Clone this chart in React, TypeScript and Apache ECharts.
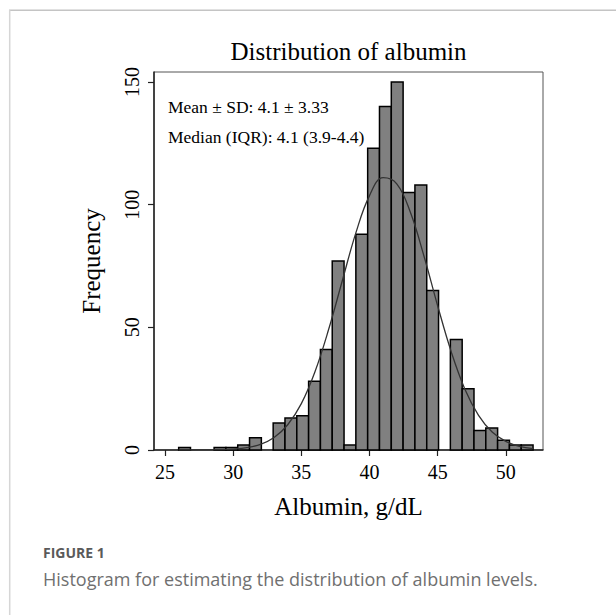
import React, { useEffect, useRef } from "react";
import * as echarts from "echarts";

// Histogram bins (Stata-style, 30 bins from 26 to 52 g/L)
const BIN_START = 26;
const BIN_WIDTH = 26 / 30;
const COUNTS = [1, 0, 0, 1, 1, 2, 5, 0, 11, 13, 14, 28, 41, 77, 2, 88, 123, 140, 150, 105, 108, 65, 0, 45, 25, 8, 9, 4, 2, 2];

// Normal curve overlay
const CURVE_X = [26, 27, 28, 29, 30, 31, 32, 33, 34, 35, 36, 37, 38, 39, 40, 41, 42, 43, 44, 45, 46, 47, 48, 49, 50, 51, 52];
const CURVE_Y = [0, 0.01, 0.04, 0.12, 0.36, 0.95, 2.3, 5.1, 10.3, 18.9, 31.9, 49.1, 68.9, 88.5, 103.7, 111.0, 108.5, 96.9, 79.0, 58.8, 40.0, 24.8, 14.1, 7.3, 3.5, 1.5, 0.6];

const X_TICKS = [25, 30, 35, 40, 45, 50];
const Y_TICKS = [0, 50, 100, 150];

const TITLE = "Distribution of albumin";
const X_NAME = "Albumin, g/dL";
const Y_NAME = "Frequency";
const NOTE_1 = "Mean ± SD: 4.1 ± 3.33";
const NOTE_2 = "Median (IQR): 4.1 (3.9-4.4)";
const FIG_LABEL = "FIGURE 1";
const FIG_CAPTION = "Histogram for estimating the distribution of albumin levels.";

const SERIF = "'Liberation Serif', 'Times New Roman', serif";
const SANS = "'Open Sans', 'Noto Sans', sans-serif";

export default function App() {
  const ref = useRef<HTMLDivElement>(null);

  useEffect(() => {
    if (!ref.current) return;
    const chart = echarts.init(ref.current, null, { renderer: "svg" });

    const binData = COUNTS.map((c, i) => [BIN_START + i * BIN_WIDTH, BIN_START + (i + 1) * BIN_WIDTH, c]);
    const curveData = CURVE_X.map((x, i) => [x, CURVE_Y[i]]);

    const option: any = {
      animation: false,
      backgroundColor: "#ffffff",
      textStyle: { fontFamily: SERIF },
      grid: {
        left: 154,
        top: 72,
        right: 73,
        bottom: 165,
        show: true,
        borderColor: "#555",
        borderWidth: 1,
        outerBoundsMode: "none",
      },
      xAxis: {
        type: "value",
        min: 24.19,
        max: 52.73,
        name: X_NAME,
        nameLocation: "middle",
        nameGap: 44,
        nameTextStyle: { fontFamily: SERIF, fontSize: 25, color: "#000" },
        axisLine: { show: true, onZero: false, lineStyle: { color: "#222", width: 1.5 } },
        axisTick: { show: true, length: 6, customValues: X_TICKS, lineStyle: { color: "#222", width: 1.2 } },
        axisLabel: { customValues: X_TICKS, fontFamily: SERIF, fontSize: 20, color: "#000", margin: 12 },
        splitLine: { show: false },
      },
      yAxis: {
        type: "value",
        min: 0,
        max: 154.1,
        name: Y_NAME,
        nameLocation: "middle",
        nameGap: 50,
        nameRotate: 90,
        nameTextStyle: { fontFamily: SERIF, fontSize: 25, color: "#000" },
        axisLine: { show: true, lineStyle: { color: "#222", width: 1.5 } },
        axisTick: { show: true, length: 6, customValues: Y_TICKS, lineStyle: { color: "#222", width: 1.2 } },
        axisLabel: {
          customValues: Y_TICKS,
          rotate: 90,
          fontFamily: SERIF,
          fontSize: 20,
          color: "#000",
          margin: 12,
        },
        splitLine: { show: false },
      },
      series: [
        {
          type: "custom",
          data: binData,
          renderItem: (params: any, api: any) => {
            const x0 = api.value(0);
            const x1 = api.value(1);
            const y = api.value(2);
            if (!y) return null;
            const p0 = api.coord([x0, y]);
            const p1 = api.coord([x1, 0]);
            return {
              type: "rect",
              shape: { x: p0[0], y: p0[1], width: p1[0] - p0[0], height: p1[1] - p0[1] },
              style: { fill: "#808080", stroke: "#000", lineWidth: 1.5 },
            };
          },
          z: 2,
        },
        {
          type: "line",
          data: curveData,
          smooth: 0.4,
          showSymbol: false,
          symbol: "none",
          lineStyle: { color: "#333", width: 1.3 },
          z: 3,
        },
      ],
      graphic: [
        { type: "line", shape: { x1: 9, y1: 10.3, x2: 616, y2: 10.3 }, style: { stroke: "#c4c4c4", lineWidth: 1.5 } },
        { type: "line", shape: { x1: 9.7, y1: 10, x2: 9.7, y2: 615 }, style: { stroke: "#d6d6d6", lineWidth: 1.5 } },
        {
          type: "text",
          x: 348.5,
          y: 51,
          style: { text: TITLE, fontFamily: SERIF, fontSize: 25, fill: "#000", align: "center", verticalAlign: "middle" },
        },
        {
          type: "text",
          x: 168,
          y: 106.5,
          style: { text: NOTE_1, fontFamily: SERIF, fontSize: 17.5, fill: "#000", align: "left", verticalAlign: "middle" },
        },
        {
          type: "text",
          x: 168,
          y: 136.5,
          style: { text: NOTE_2, fontFamily: SERIF, fontSize: 17.5, fill: "#000", align: "left", verticalAlign: "middle" },
        },
        {
          type: "text",
          x: 43,
          y: 552,
          style: { text: FIG_LABEL, fontFamily: SANS, fontSize: 14, fontWeight: "bold", fill: "#5a5a5a", align: "left", verticalAlign: "middle" },
        },
        {
          type: "text",
          x: 43,
          y: 579,
          style: { text: FIG_CAPTION, fontFamily: SANS, fontSize: 18, fill: "#707070", align: "left", verticalAlign: "middle" },
        },
      ],
    };

    chart.setOption(option);
    return () => chart.dispose();
  }, []);

  return <div ref={ref} style={{ position: "absolute", left: 0, top: 0, width: 616, height: 615 }} />;
}
